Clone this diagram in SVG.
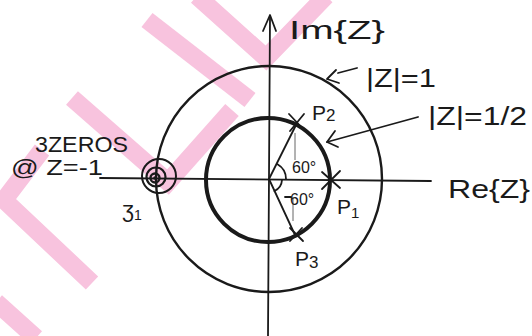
<svg xmlns="http://www.w3.org/2000/svg" width="532" height="336" viewBox="0 0 532 336">
<style>
.wm{fill:none;stroke:#f8c3de;stroke-width:18;stroke-linejoin:miter}
.ln{fill:none;stroke:#1a1a1a;stroke-width:1.8;stroke-linecap:round;stroke-linejoin:round}
.thin{fill:none;stroke:#555;stroke-width:0.9}
.t{font-family:"Liberation Sans",Arial,sans-serif;fill:#1a1a1a}
</style>
<rect width="532" height="336" fill="#ffffff"/>
<g id="watermark">
<polyline class="wm" points="147,20 250,100"/>
<polyline class="wm" points="197,-4 266,58 326,-4"/>
<polyline class="wm" points="72,98 168,182 232,110"/>
<polyline class="wm" points="42,150 4,200 92,283"/>
<polyline class="wm" points="-4,302 36,338"/>
</g>
<g id="axes">
<path class="ln" d="M100,178 L431,181"/>
<path class="ln" d="M270,16 L268,336"/>
<path class="ln" d="M263,31 L270,15 L276,31"/>
</g>
<g id="unit-circle">
<circle cx="269" cy="179" r="113" fill="none" stroke="#1a1a1a" stroke-width="2.4"/>
</g>
<g id="half-circle">
<circle cx="268" cy="180" r="62" fill="none" stroke="#1a1a1a" stroke-width="4"/>
</g>
<g id="connectors">
<path class="ln" d="M269,179 L297,123"/>
<path class="ln" d="M269,179 L295,235"/>
<path class="thin" d="M295,133 L295,160"/>
<path class="thin" d="M293,197 L293,221"/>
<path class="ln" d="M285,197 L291,197" stroke-width="1.4"/>
<path class="ln" d="M286,179 A17,17 0 0 0 277.5,164.3" stroke-width="1.5"/>
<path class="ln" d="M274.5,191 A13,13 0 0 0 282,180" stroke-width="1.5"/>
<path class="ln" d="M338,73 L357,68"/>
<path class="ln" d="M327,79 L336,70 M327,79 L339,83"/>
<path class="ln" d="M418,117 L327,142"/>
<path class="ln" d="M327,142 L335,131 M327,142 L338,147"/>
</g>
<g id="poles">
<path class="ln" d="M322,172 L340,188 M340,171 L322,189" stroke-width="2.4"/>
<path class="ln" d="M289,114 L305,131 M304,114 L290,131" stroke-width="2.4"/>
<path class="ln" d="M290,228 L303,241 M302,228 L290,241" stroke-width="2.4"/>
</g>
<g id="zeros">
<circle cx="155" cy="178" r="4.5" fill="none" stroke="#1a1a1a" stroke-width="2.4"/>
<circle cx="156" cy="177" r="9.5" fill="none" stroke="#1a1a1a" stroke-width="2.2"/>
<circle cx="159" cy="176" r="17" fill="none" stroke="#1a1a1a" stroke-width="2"/>
<circle cx="155" cy="178" r="1.8" fill="#1a1a1a"/>
</g>
<g id="labels">
<text class="t" x="289" y="39" font-size="26" textLength="96" lengthAdjust="spacingAndGlyphs">Im{Z}</text>
<text class="t" x="366" y="87" font-size="26" textLength="70" lengthAdjust="spacingAndGlyphs">|Z|=1</text>
<text class="t" x="428" y="125" font-size="26" textLength="99" lengthAdjust="spacingAndGlyphs">|Z|=1/2</text>
<text class="t" x="448" y="198" font-size="26" textLength="82" lengthAdjust="spacingAndGlyphs">Re{Z}</text>
<text class="t" x="312" y="120" font-size="21">P<tspan font-size="17" dy="1">2</tspan></text>
<text class="t" x="337" y="214" font-size="21">P<tspan font-size="15" dy="4">1</tspan></text>
<text class="t" x="295" y="266" font-size="21">P<tspan font-size="17" dy="2">3</tspan></text>
<text class="t" x="292" y="173" font-size="16">60°</text>
<text class="t" x="290" y="205" font-size="16">60°</text>
<text class="t" x="35" y="152" font-size="22" textLength="93" lengthAdjust="spacingAndGlyphs">3ZEROS</text>
<text class="t" x="11" y="175" font-size="22" textLength="92" lengthAdjust="spacingAndGlyphs">@ Z=-1</text>
<text class="t" x="122" y="217" font-size="22">ʒ<tspan font-size="14" dy="3">1</tspan></text>
</g>
</svg>
